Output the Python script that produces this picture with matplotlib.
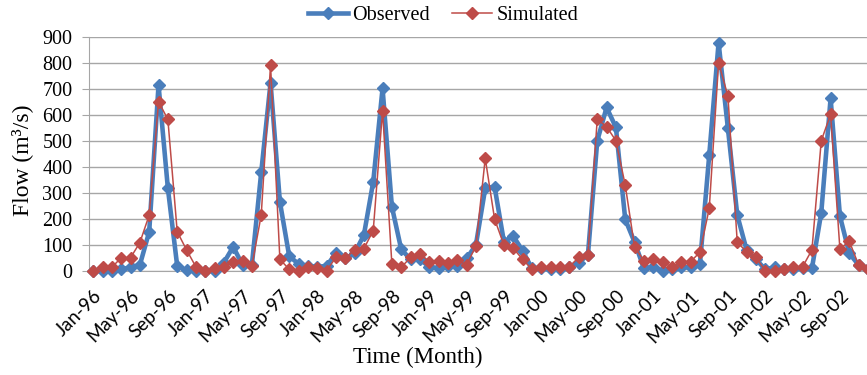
import numpy as np
import matplotlib
matplotlib.use("Agg")
import matplotlib.pyplot as plt

# Monthly flow, Jan-96 .. Dec-02 (m3/s)
observed = [0, 0, 0, 5, 13, 22, 150, 714, 317, 18, 3, 0,
            0, 0, 31, 92, 22, 22, 378, 723, 265, 56, 26, 18,
            15, 18, 67, 47, 67, 137, 342, 701, 246, 82, 44, 44,
            15, 9, 20, 18, 47, 99, 317, 323, 112, 133, 77, 9,
            9, 5, 5, 15, 31, 60, 499, 628, 551, 197, 110, 9,
            15, 0, 5, 13, 13, 26, 445, 877, 547, 214, 80, 44,
            5, 13, 5, 5, 9, 9, 223, 663, 210, 67, 22, 5]
simulated = [0, 13, 13, 50, 50, 108, 214, 650, 582, 150, 80, 15,
             0, 9, 13, 35, 38, 18, 214, 791, 44, 5, 0, 15,
             9, 0, 51, 47, 80, 85, 154, 615, 24, 13, 51, 64,
             35, 38, 28, 41, 22, 95, 432, 199, 99, 86, 44, 5,
             13, 15, 15, 15, 51, 60, 583, 554, 500, 329, 91, 38,
             44, 35, 13, 35, 35, 71, 240, 800, 672, 109, 73, 51,
             0, 0, 5, 15, 15, 80, 500, 601, 82, 114, 22, 5]
tick_labels = ["Jan-96", "May-96", "Sep-96", "Jan-97", "May-97", "Sep-97",
               "Jan-98", "May-98", "Sep-98", "Jan-99", "May-99", "Sep-99",
               "Jan-00", "May-00", "Sep-00", "Jan-01", "May-01", "Sep-01",
               "Jan-02", "May-02", "Sep-02"]
y_ticks = [0, 100, 200, 300, 400, 500, 600, 700, 800, 900]

BLUE = "#4A7EBB"
RED = "#BE4B48"
SERIF = "Liberation Serif"

months = np.arange(len(observed))

fig = plt.figure(figsize=(8.67, 3.75), dpi=100)
W, H = 867.0, 375.0
ax = fig.add_axes([89 / W, 1 - 270.7 / H, (W - 89) / W, (270.7 - 36.7) / H])

ax.plot(months, observed, color=BLUE, lw=3.3, marker="D", ms=6.5,
        mfc=BLUE, mec=BLUE, label="Observed", clip_on=False, zorder=3)
ax.plot(months, simulated, color=RED, lw=1.1, marker="D", ms=6.5,
        mfc=RED, mec=RED, label="Simulated", clip_on=False, zorder=4)

ax.set_xlim(-0.45, 82.9)
ax.set_ylim(0, 900)
ax.set_yticks(y_ticks)
ax.set_yticklabels([str(v) for v in y_ticks], family=SERIF, fontsize=14.5)
ax.set_xticks(months[::4])
ax.set_xticklabels(tick_labels, rotation=45, ha="right", rotation_mode="anchor",
                   family="Lato", fontsize=13.5)

ax.yaxis.grid(True, color="#A6A6A6", lw=1.0)
ax.set_axisbelow(True)
for s in ["top", "right"]:
    ax.spines[s].set_visible(False)
ax.spines["left"].set_color("#A6A6A6")
ax.spines["bottom"].set_color("#A6A6A6")
ax.tick_params(axis="y", length=5, color="#A6A6A6", pad=7)
ax.tick_params(axis="x", length=0, pad=12)

fig.text(418 / W, 1 - 357 / H, "Time (Month)", family=SERIF, fontsize=16.5,
         ha="center", va="center")
fig.text(22 / W, 1 - 160 / H, "Flow (m³/s)", family=SERIF, fontsize=17,
         ha="center", va="center", rotation=90)

fig.legend(loc="center", bbox_to_anchor=(443 / W, 1 - 15 / H), ncol=2,
           frameon=False, handlelength=2.0, handletextpad=0.2,
           columnspacing=1.1, prop={"family": SERIF, "size": 14.5})

fig.savefig("out.png", dpi=100)
